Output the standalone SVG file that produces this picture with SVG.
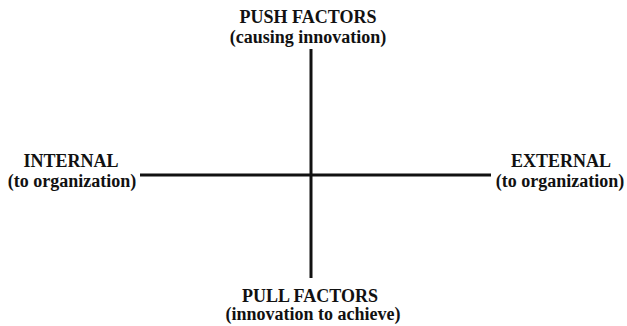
<svg xmlns="http://www.w3.org/2000/svg" width="627" height="326" viewBox="0 0 627 326">
  <style>
    .label { font-family: "Liberation Serif", "Times New Roman", serif; font-weight: bold; font-size: 18px; fill: #111; text-anchor: middle; }
    .axis { stroke: #111; stroke-width: 3; fill: none; }
  </style>
  <rect width="627" height="326" fill="#fff"/>
  <g id="connectors">
    <line class="axis" x1="311" y1="49" x2="311" y2="278"/>
    <line class="axis" x1="140" y1="175" x2="491" y2="175"/>
  </g>
  <g id="push">
    <text class="label" x="308" y="23">PUSH FACTORS</text>
    <text class="label" x="308" y="43">(causing innovation)</text>
  </g>
  <g id="internal">
    <text class="label" x="71" y="167">INTERNAL</text>
    <text class="label" x="72" y="187">(to organization)</text>
  </g>
  <g id="external">
    <text class="label" x="561" y="167">EXTERNAL</text>
    <text class="label" x="560" y="187">(to organization)</text>
  </g>
  <g id="pull">
    <text class="label" x="310" y="302">PULL FACTORS</text>
    <text class="label" x="313" y="320">(innovation to achieve)</text>
  </g>
</svg>
